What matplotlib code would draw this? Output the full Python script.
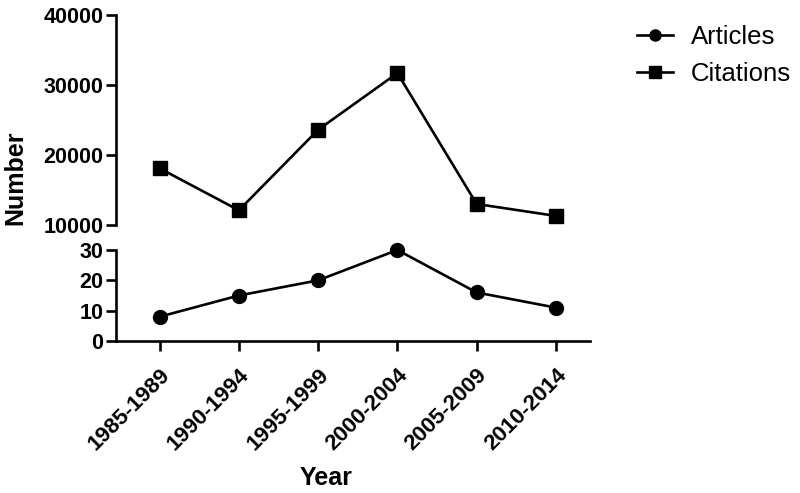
import matplotlib
matplotlib.use('Agg')
import matplotlib.pyplot as plt

plt.rcParams['font.family'] = ['Liberation Sans', 'DejaVu Sans']

periods = ['1985-1989', '1990-1994', '1995-1999', '2000-2004', '2005-2009', '2010-2014']
articles = [8, 15, 20, 30, 16, 11]
citations = [18100, 12100, 23600, 31700, 13000, 11300]

fig = plt.figure(figsize=(8, 4.93), dpi=100)
ax_top = fig.add_axes([0.145, 0.5436, 0.5925, 0.426])
ax_bot = fig.add_axes([0.145, 0.3083, 0.5925, 0.1846])

x = list(range(len(periods)))
line_kw = dict(color='black', linewidth=1.9, markersize=10, clip_on=False)
ax_top.plot(x, citations, marker='s', label='Citations', **line_kw)
ax_bot.plot(x, articles, marker='o', label='Articles', **line_kw)

for ax in (ax_top, ax_bot):
    ax.set_xlim(-0.55, 5.43)
    for s in ('top', 'right'):
        ax.spines[s].set_visible(False)
    ax.spines['left'].set_linewidth(1.9)
    ax.spines['bottom'].set_linewidth(1.9)
    ax.tick_params(axis='y', width=1.9, length=7, labelsize=15.5, pad=2)

ax_top.set_ylim(10000, 40000)
ax_top.set_yticks([10000, 20000, 30000, 40000])
ax_top.spines['bottom'].set_visible(False)
ax_top.set_xticks([])

ax_bot.set_ylim(0, 30)
ax_bot.set_yticks([0, 10, 20, 30])
ax_bot.set_xticks(x)
ax_bot.set_xticklabels(periods, rotation=45, ha='right', rotation_mode='anchor',
                       fontsize=16, fontweight='bold')
ax_bot.tick_params(axis='x', width=1.9, length=7, pad=10)

for ax in (ax_top, ax_bot):
    for lbl in ax.get_yticklabels():
        lbl.set_fontweight('bold')

fig.text(0.019, 0.64, 'Number', rotation=90, ha='center', va='center',
         fontsize=18, fontweight='bold')
fig.text(0.407, 0.03, 'Year', ha='center', va='center', fontsize=18, fontweight='bold')

handles = ax_bot.get_lines() + ax_top.get_lines()
fig.legend(handles, [h.get_label() for h in handles], loc='upper left',
           bbox_to_anchor=(0.78, 0.975), frameon=False, fontsize=18.5,
           borderpad=0, handlelength=1.4, handletextpad=0.7,
           labelspacing=0.5, markerscale=0.8)

fig.savefig('out.png', dpi=100)
